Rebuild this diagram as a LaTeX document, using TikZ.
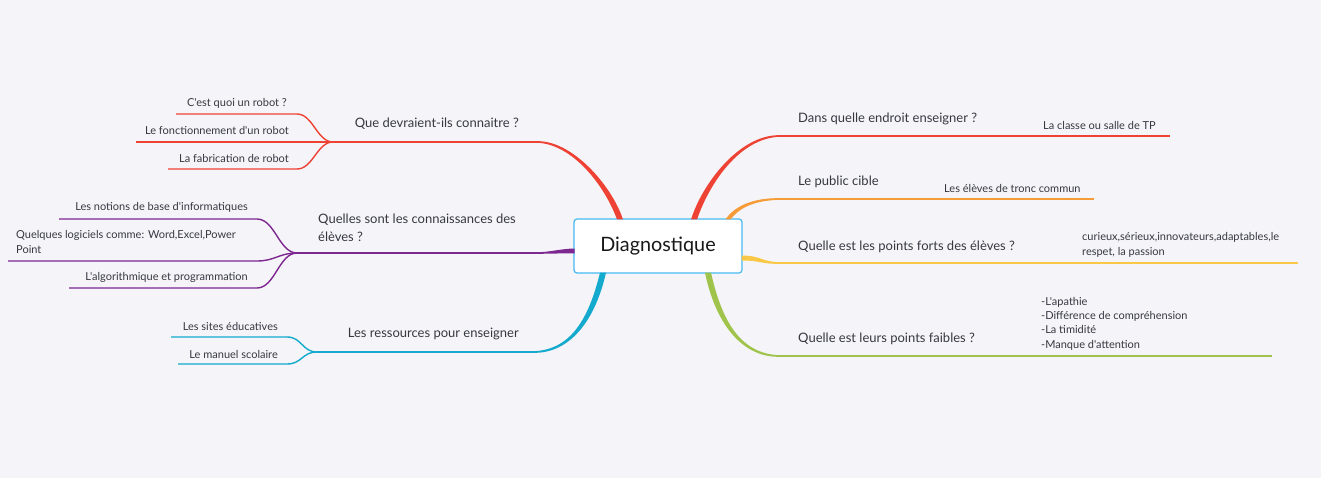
\documentclass[tikz,border=0pt]{standalone}
\usepackage{fontspec}
\setmainfont{Lato}[Ligatures=TeXOff]
\usetikzlibrary{calc}

\definecolor{bgc}{RGB}{245,245,249}
\definecolor{ink}{RGB}{55,55,66}
\definecolor{boxc}{RGB}{70,185,240}
\definecolor{cRed}{RGB}{238,66,52}
\definecolor{cOrange}{RGB}{245,155,55}
\definecolor{cYellow}{RGB}{250,200,70}
\definecolor{cGreen}{RGB}{160,195,75}
\definecolor{cCyan}{RGB}{20,170,205}
\definecolor{cPurple}{RGB}{125,40,145}

\tikzset{
  centre/.style={draw=boxc, fill=white, rounded corners=3pt, line width=1.2pt,
    minimum width=168pt, minimum height=54pt, inner sep=0pt, outer sep=0pt,
    font=\fontsize{19.8}{22}\selectfont, text=black!90},
  lbl/.style={inner sep=0pt, text=ink, align=left, font=\fontsize{13}{18}\selectfont},
  sublbl/.style={inner sep=0pt, text=ink, align=left, font=\fontsize{11}{14.3}\selectfont},
  trunk/.style={line width=1.6pt},
  twig/.style={line width=1.4pt}
}

\begin{document}
\begin{tikzpicture}[x=1pt, y=-1pt]

  \useasboundingbox (0,0) rectangle (1321,478);
  \fill[bgc] (0,0) rectangle (1321,478);

  %%centre
  \node[centre] (dg) at (658,246) {Diagnostique};

  %%b1
  \coordinate (b1e) at (537,142);
  \coordinate (b1j) at (333,142);
  \fill[cRed] ($(dg.north)+(-41,.5)$) .. controls (604.5,185) and (572,143.8) .. ($(b1e)+(0,.8)$)
    -- ($(b1e)+(0,-.8)$) .. controls (572,140.2) and (611.5,185) .. ($(dg.north)+(-35,.5)$) -- cycle;
  \draw[trunk, cRed] (b1e) -- (b1j);
  \node[lbl, anchor=east] (b1) at (519,124) {Que devraient-ils connaitre ?};

    \coordinate (b1a-s) at (176,114);
    \coordinate (b1a-t) at (297,114);
    \draw[twig, cRed] (b1a-s) -- (b1a-t) .. controls +(16,0) and +(-16,0) .. (b1j);
    \node[sublbl, anchor=east] (b1a) at (287,103) {C'est quoi un robot ?};

    \coordinate (b1b-s) at (136,142);
    \draw[twig, cRed] (b1b-s) -- (b1j);
    \node[sublbl, anchor=east] (b1b) at (289,130) {Le fonctionnement d'un robot};

    \coordinate (b1c-s) at (168,169);
    \coordinate (b1c-t) at (297,169);
    \draw[twig, cRed] (b1c-s) -- (b1c-t) .. controls +(16,0) and +(-16,0) .. (b1j);
    \node[sublbl, anchor=east] (b1c) at (289,158) {La fabrication de robot};

  %%b2
  \coordinate (b2e) at (537,253);
  \coordinate (b2j) at (297,253);
  \fill[cPurple] ($(dg.west)+(.5,2.5)$) .. controls (560,248.8) and (550,252.2) .. ($(b2e)+(0,-.8)$)
    -- ($(b2e)+(0,.8)$) .. controls (550,253.8) and (560,253.2) .. ($(dg.west)+(.5,7.5)$) -- cycle;
  \draw[trunk, cPurple] (b2e) -- (b2j);
  \node[lbl, anchor=east] (b2) at (516,228) {Quelles sont les connaissances des\\élèves ?};

    \coordinate (b2a-s) at (59,219);
    \coordinate (b2a-t) at (257,219);
    \draw[twig, cPurple] (b2a-s) -- (b2a-t) .. controls +(18,0) and +(-18,0) .. (b2j);
    \node[sublbl, anchor=east] (b2a) at (248,207) {Les notions de base d'informatiques};

    \coordinate (b2b-s) at (8,261);
    \coordinate (b2b-t) at (257,261);
    \draw[twig, cPurple] (b2b-s) -- (b2b-t) .. controls +(18,0) and +(-18,0) .. (b2j);
    \node[sublbl, anchor=west] (b2b) at (16,242) {Quelques logiciels comme: Word,Excel,Power\\Point};

    \coordinate (b2c-s) at (69,288);
    \coordinate (b2c-t) at (257,288);
    \draw[twig, cPurple] (b2c-s) -- (b2c-t) .. controls +(18,0) and +(-18,0) .. (b2j);
    \node[sublbl, anchor=east] (b2c) at (248,277) {L'algorithmique et programmation};

  %%b3
  \coordinate (b3e) at (533,352);
  \coordinate (b3j) at (317,352);
  \fill[cCyan] ($(dg.south)+(-52,-.5)$) .. controls (595.5,320) and (570,353.8) .. ($(b3e)+(0,.8)$)
    -- ($(b3e)+(0,-.8)$) .. controls (570,350.2) and (588.5,320) .. ($(dg.south)+(-58,-.5)$) -- cycle;
  \draw[trunk, cCyan] (b3e) -- (b3j);
  \node[lbl, anchor=east] (b3) at (519,334) {Les ressources pour enseigner};

    \coordinate (b3a-s) at (171,337);
    \coordinate (b3a-t) at (287,337);
    \draw[twig, cCyan] (b3a-s) -- (b3a-t) .. controls +(15,0) and +(-15,0) .. (b3j);
    \node[sublbl, anchor=east] (b3a) at (278,326) {Les sites éducatives};

    \coordinate (b3b-s) at (178,364);
    \coordinate (b3b-t) at (287,364);
    \draw[twig, cCyan] (b3b-s) -- (b3b-t) .. controls +(15,0) and +(-15,0) .. (b3j);
    \node[sublbl, anchor=east] (b3b) at (278,354) {Le manuel scolaire};

  %%b4
  \coordinate (b4e) at (780,136);
  \coordinate (b4j) at (1000,136);
  \coordinate (b4x) at (1170,136);
  \fill[cRed] ($(dg.north)+(33,.5)$) .. controls (702.5,183) and (740,134.2) .. ($(b4e)+(0,-.8)$)
    -- ($(b4e)+(0,.8)$) .. controls (740,137.8) and (709.5,183) .. ($(dg.north)+(39,.5)$) -- cycle;
  \draw[trunk, cRed] (b4e) -- (b4j);
  \draw[twig, cRed] (b4j) -- (b4x);
  \node[lbl, anchor=west] (b4) at (798,119) {Dans quelle endroit enseigner ?};
    \node[sublbl, anchor=west] (b4a) at (1043,125) {La classe ou salle de TP};

  %%b5
  \coordinate (b5e) at (780,199);
  \coordinate (b5j) at (935,199);
  \coordinate (b5x) at (1094,199);
  \fill[cOrange] ($(dg.north)+(67.5,.5)$) .. controls (733.5,207) and (752,197.6) .. ($(b5e)+(0,-.8)$)
    -- ($(b5e)+(0,.8)$) .. controls (752,200.4) and (738.5,209) .. ($(dg.north)+(72.5,.5)$) -- cycle;
  \draw[trunk, cOrange] (b5e) -- (b5j);
  \draw[twig, cOrange] (b5j) -- (b5x);
  \node[lbl, anchor=west] (b5) at (798,182) {Le public cible};
    \node[sublbl, anchor=west] (b5a) at (944,188) {Les élèves de tronc commun};

  %%b6
  \coordinate (b6e) at (780,263);
  \coordinate (b6j) at (1070,263);
  \coordinate (b6x) at (1298,263);
  \fill[cYellow] ($(dg.east)+(-.5,9.5)$) .. controls (761,255.5) and (761,261.8) .. ($(b6e)+(0,-.8)$)
    -- ($(b6e)+(0,.8)$) .. controls (761,264.2) and (761,260.5) .. ($(dg.east)+(-.5,14.5)$) -- cycle;
  \draw[trunk, cYellow] (b6e) -- (b6j);
  \draw[twig, cYellow] (b6j) -- (b6x);
  \node[lbl, anchor=west] (b6) at (798,247) {Quelle est les points forts des élèves ?};
    \node[sublbl, anchor=west] (b6a) at (1082,245) {curieux,sérieux,innovateurs,adaptables,le\\respet, la passion};

  %%b7
  \coordinate (b7e) at (780,356);
  \coordinate (b7j) at (1030,356);
  \coordinate (b7x) at (1272,356);
  \fill[cGreen] ($(dg.south)+(47,-.5)$) .. controls (714.5,320) and (740,357.8) .. ($(b7e)+(0,.8)$)
    -- ($(b7e)+(0,-.8)$) .. controls (740,354.2) and (721.5,320) .. ($(dg.south)+(53,-.5)$) -- cycle;
  \draw[trunk, cGreen] (b7e) -- (b7j);
  \draw[twig, cGreen] (b7j) -- (b7x);
  \node[lbl, anchor=west] (b7) at (798,339) {Quelle est leurs points faibles ?};
    \node[sublbl, anchor=west] (b7a) at (1041,323.5) {-L'apathie\\-Différence de compréhension\\-La timidité\\-Manque d'attention};

\end{tikzpicture}
\end{document}
